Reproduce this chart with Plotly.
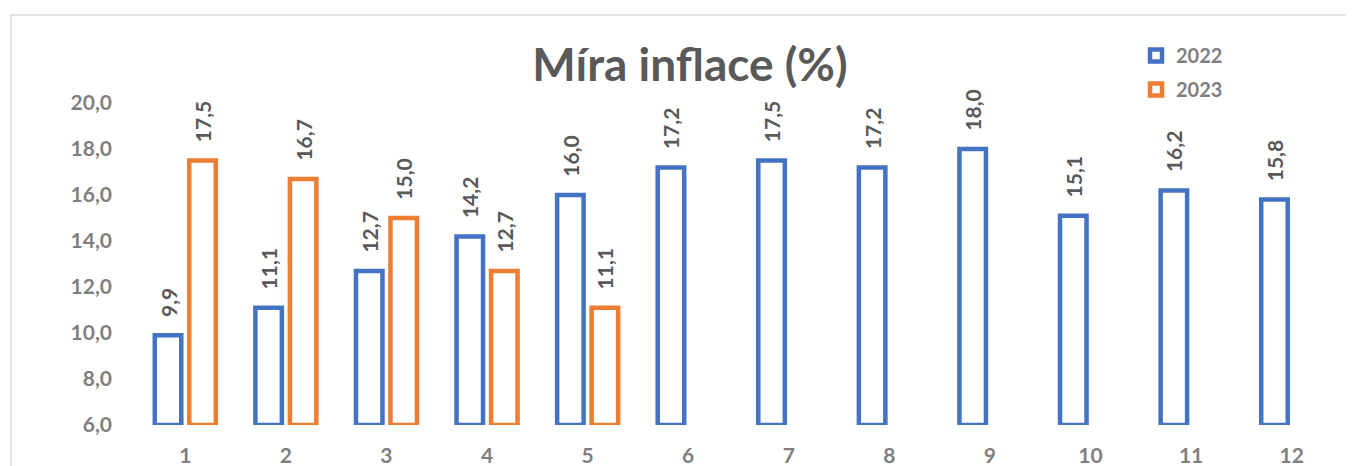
import plotly.graph_objects as go

months = [str(i) for i in range(1, 13)]
inf_2022 = [9.9, 11.1, 12.7, 14.2, 16.0, 17.2, 17.5, 17.2, 18.0, 15.1, 16.2, 15.8]
inf_2023 = [17.5, 16.7, 15.0, 12.7, 11.1, None, None, None, None, None, None, None]
y_ticks = [6, 8, 10, 12, 14, 16, 18, 20]

BASE = 6.0
BLUE = "#4472C4"
ORANGE = "#ED7D31"
FONT = "Lato"
PAD = "\u00a0" * 3

OFF = 8  # page body margin
W, H = 1354 - OFF, 466 - OFF
ML, MR, MT = 135 - OFF, 12, 103 - OFF
MB = H - (425 - OFF)
PW, PH = W - ML - MR, H - MT - MB


def fmt(v):
    return "" if v is None else PAD + f"{v:.1f}".replace(".", ",")


def bar(name, vals, color):
    return go.Bar(
        name=name,
        legendgroup=name,
        x=months,
        y=[None if v is None else v - BASE for v in vals],
        base=BASE,
        marker=dict(color="white", line=dict(color=color, width=4.5)),
        text=[fmt(v) for v in vals],
        textposition="outside",
        textangle=-90,
        constraintext="none",
        cliponaxis=False,
        textfont=dict(family=FONT, size=21, color="#595959", weight="bold"),
    )


fig = go.Figure([bar("2022", inf_2022, BLUE), bar("2023", inf_2023, ORANGE)])

fig.update_layout(
    width=W,
    height=H,
    margin=dict(l=ML, r=MR, t=MT, b=MB, autoexpand=False),
    paper_bgcolor="white",
    plot_bgcolor="white",
    barmode="group",
    bargap=0.314,
    bargroupgap=0.232,
    separators=",.",
    title=dict(
        text="<b>Míra inflace (%)</b>",
        font=dict(family=FONT, size=46, color="#595959"),
        x=(690 - OFF) / W,
        xref="container",
        xanchor="center",
        y=1 - (65 - OFF) / H,
        yref="container",
        yanchor="middle",
    ),
    legend=dict(
        x=(1136 - 135) / PW,
        xref="paper",
        y=(H - MB - (36 - OFF)) / PH,
        yref="paper",
        xanchor="left",
        yanchor="top",
        font=dict(family=FONT, size=20, color="#7f7f7f", weight="bold"),
        bgcolor="rgba(0,0,0,0)",
        itemwidth=30,
        tracegroupgap=5,
    ),
    showlegend=True,
    xaxis=dict(
        type="category",
        showgrid=False,
        showline=False,
        zeroline=False,
        ticks="",
        ticklabelstandoff=16,
        tickfont=dict(family=FONT, size=21, color="#7f7f7f", weight="bold"),
    ),
    yaxis=dict(
        range=[6, 20],
        tickvals=y_ticks,
        tickformat=".1f",
        showgrid=False,
        showline=False,
        zeroline=False,
        ticks="",
        ticklabelstandoff=22,
        tickfont=dict(family=FONT, size=21, color="#7f7f7f", weight="bold"),
    ),
    shapes=[
        dict(
            type="rect",
            xref="paper",
            yref="paper",
            x0=(11 - 135) / PW,
            x1=1.2,
            y0=-0.5,
            y1=(425 - 15) / PH,
            line=dict(color="#d9d9d9", width=1.5),
            fillcolor="rgba(0,0,0,0)",
            layer="below",
        )
    ],
)

fig.write_html("out.html")
